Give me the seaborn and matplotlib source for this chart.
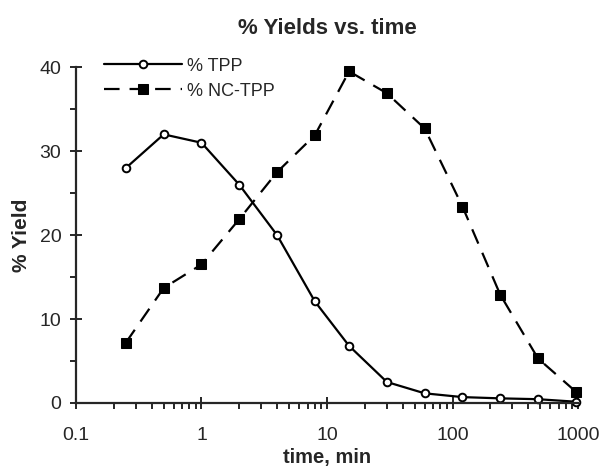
import matplotlib
matplotlib.use("Agg")
import matplotlib.pyplot as plt
import seaborn as sns
import pandas as pd
import numpy as np
from matplotlib.ticker import FixedLocator, LogLocator, NullFormatter

time_min = [0.25, 0.5, 1, 2, 4, 8, 15, 30, 60, 120, 240, 480, 960]
tpp = [28.0, 32.0, 31.0, 26.0, 20.0, 12.1, 6.8, 2.5, 1.15, 0.7, 0.55, 0.45, 0.15]
nc_tpp = [7.2, 13.7, 16.5, 21.9, 27.5, 31.9, 39.5, 36.9, 32.7, 23.4, 12.9, 5.3, 1.35]
x_ticks = [0.1, 1, 10, 100, 1000]
x_tick_labels = ["0.1", "1", "10", "100", "1000"]
y_ticks = [0, 10, 20, 30, 40]

sns.set_style("ticks")
plt.rcParams['font.family'] = ['Liberation Sans', 'DejaVu Sans']

df = pd.DataFrame({"time": time_min, "TPP": tpp, "NC": nc_tpp})

fig = plt.figure(figsize=(6.04, 4.70), dpi=100)
ax = fig.add_axes([0.1258, 0.1426, 0.957 - 0.1258, 0.857 - 0.1426])

sns.lineplot(data=df, x="time", y="TPP", ax=ax, color="black", linewidth=1.6,
             marker="o", markersize=5.5, markerfacecolor="white",
             markeredgecolor="black", markeredgewidth=1.4, label="% TPP",
             clip_on=False)
sns.lineplot(data=df, x="time", y="NC", ax=ax, color="black", linewidth=1.6,
             marker="s", markersize=7, markerfacecolor="black",
             markeredgecolor="black", label="% NC-TPP", clip_on=False)
ax.lines[1].set_dashes([7, 4.5])

ax.set_xscale("log")
ax.set_xlim(0.1, 1000)
ax.set_ylim(0, 40)
ax.xaxis.set_major_locator(FixedLocator(x_ticks))
ax.set_xticklabels(x_tick_labels)
ax.xaxis.set_minor_locator(LogLocator(base=10, subs=np.arange(2, 10)))
ax.xaxis.set_minor_formatter(NullFormatter())
ax.yaxis.set_major_locator(FixedLocator(y_ticks))
ax.yaxis.set_minor_locator(FixedLocator([5, 15, 25, 35]))

ax.tick_params(axis="both", which="major", direction="inout", length=9, width=1.4,
               labelsize=14)
ax.tick_params(axis="x", which="major", pad=13)
ax.tick_params(axis="y", which="major", pad=6)
ax.tick_params(axis="both", which="minor", direction="out", length=4.5, width=1.4)
for sp in ["left", "bottom"]:
    ax.spines[sp].set_linewidth(1.6)
sns.despine(ax=ax)

ax.set_xlabel("time, min", fontsize=14.5, fontweight="bold", labelpad=3)
ax.set_ylabel("% Yield", fontsize=15, fontweight="bold", labelpad=6)
ax.set_title("% Yields vs. time", fontsize=16, fontweight="bold", pad=24)

leg = ax.legend(loc="upper left", bbox_to_anchor=(0.042, 1.05), frameon=False,
                fontsize=13, handlelength=4.3, handletextpad=0.3,
                labelspacing=0.45, borderaxespad=0)

fig.savefig("out.png", dpi=100)
